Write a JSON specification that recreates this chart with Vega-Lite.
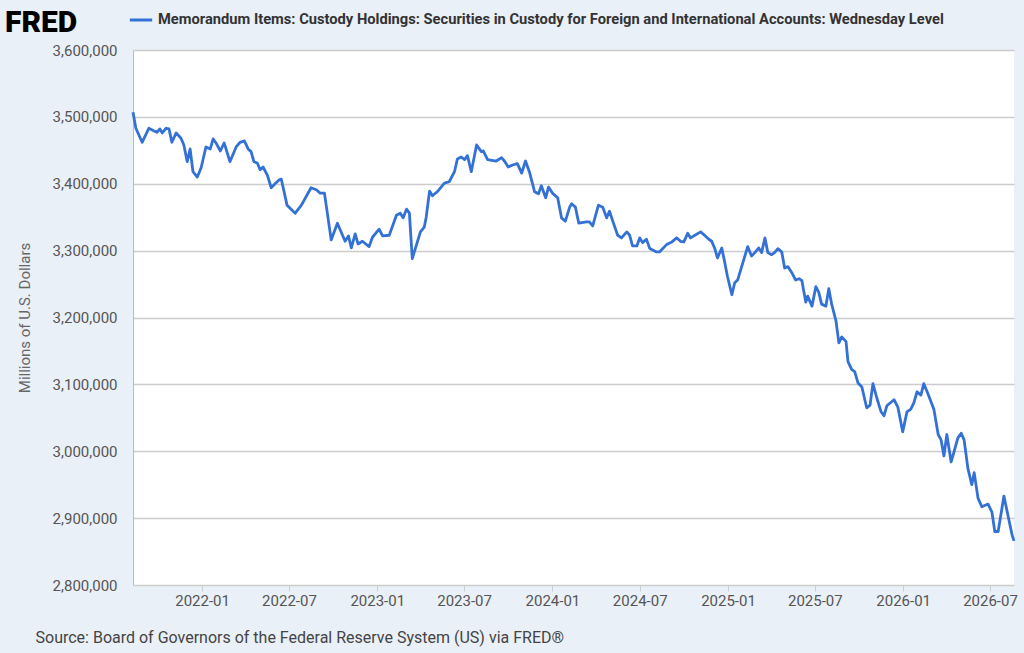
{
  "$schema": "https://vega.github.io/schema/vega-lite/v6.json",
  "autosize": "none",
  "width": 881,
  "height": 535,
  "padding": {"left": 133, "top": 50, "right": 10, "bottom": 68},
  "background": "#eaf0f8",
  "title": {
    "text": "FRED",
    "anchor": "start",
    "frame": "group",
    "dx": -128,
    "offset": 0,
    "dy": 31,
    "fontSize": 30,
    "fontWeight": 900,
    "font": "Roboto",
    "color": "#000000"
  },
  "config": {
    "view": {"fill": "#ffffff", "stroke": null},
    "font": "Roboto"
  },
  "data": {
    "values": [
      {"date": "2021-08-10", "value": 3507000},
      {"date": "2021-08-16", "value": 3483000},
      {"date": "2021-08-29", "value": 3462000},
      {"date": "2021-09-12", "value": 3483000},
      {"date": "2021-09-23", "value": 3479000},
      {"date": "2021-09-29", "value": 3477000},
      {"date": "2021-10-05", "value": 3482000},
      {"date": "2021-10-10", "value": 3476000},
      {"date": "2021-10-18", "value": 3483000},
      {"date": "2021-10-24", "value": 3482000},
      {"date": "2021-10-30", "value": 3462000},
      {"date": "2021-11-08", "value": 3476000},
      {"date": "2021-11-18", "value": 3468000},
      {"date": "2021-11-24", "value": 3458000},
      {"date": "2021-12-01", "value": 3433000},
      {"date": "2021-12-07", "value": 3452000},
      {"date": "2021-12-13", "value": 3418000},
      {"date": "2021-12-22", "value": 3410000},
      {"date": "2021-12-30", "value": 3424000},
      {"date": "2022-01-09", "value": 3455000},
      {"date": "2022-01-18", "value": 3452000},
      {"date": "2022-01-24", "value": 3467000},
      {"date": "2022-01-30", "value": 3461000},
      {"date": "2022-02-08", "value": 3449000},
      {"date": "2022-02-16", "value": 3461000},
      {"date": "2022-02-28", "value": 3433000},
      {"date": "2022-03-13", "value": 3455000},
      {"date": "2022-03-21", "value": 3462000},
      {"date": "2022-03-30", "value": 3464000},
      {"date": "2022-04-07", "value": 3452000},
      {"date": "2022-04-13", "value": 3448000},
      {"date": "2022-04-19", "value": 3433000},
      {"date": "2022-04-26", "value": 3431000},
      {"date": "2022-05-02", "value": 3421000},
      {"date": "2022-05-08", "value": 3425000},
      {"date": "2022-05-17", "value": 3413000},
      {"date": "2022-05-25", "value": 3394000},
      {"date": "2022-06-02", "value": 3400000},
      {"date": "2022-06-11", "value": 3406000},
      {"date": "2022-06-15", "value": 3407000},
      {"date": "2022-06-27", "value": 3368000},
      {"date": "2022-07-14", "value": 3356000},
      {"date": "2022-07-27", "value": 3368000},
      {"date": "2022-08-16", "value": 3394000},
      {"date": "2022-08-27", "value": 3391000},
      {"date": "2022-09-04", "value": 3386000},
      {"date": "2022-09-13", "value": 3386000},
      {"date": "2022-09-27", "value": 3316000},
      {"date": "2022-10-10", "value": 3341000},
      {"date": "2022-10-26", "value": 3314000},
      {"date": "2022-11-02", "value": 3322000},
      {"date": "2022-11-08", "value": 3304000},
      {"date": "2022-11-16", "value": 3325000},
      {"date": "2022-11-22", "value": 3310000},
      {"date": "2022-12-01", "value": 3314000},
      {"date": "2022-12-15", "value": 3306000},
      {"date": "2022-12-22", "value": 3320000},
      {"date": "2023-01-05", "value": 3332000},
      {"date": "2023-01-12", "value": 3322000},
      {"date": "2023-01-26", "value": 3323000},
      {"date": "2023-02-10", "value": 3353000},
      {"date": "2023-02-18", "value": 3356000},
      {"date": "2023-02-24", "value": 3349000},
      {"date": "2023-03-03", "value": 3362000},
      {"date": "2023-03-09", "value": 3356000},
      {"date": "2023-03-15", "value": 3288000},
      {"date": "2023-04-01", "value": 3328000},
      {"date": "2023-04-09", "value": 3335000},
      {"date": "2023-04-13", "value": 3350000},
      {"date": "2023-04-20", "value": 3389000},
      {"date": "2023-04-26", "value": 3382000},
      {"date": "2023-05-06", "value": 3388000},
      {"date": "2023-05-21", "value": 3401000},
      {"date": "2023-05-31", "value": 3403000},
      {"date": "2023-06-11", "value": 3418000},
      {"date": "2023-06-17", "value": 3437000},
      {"date": "2023-06-25", "value": 3440000},
      {"date": "2023-07-02", "value": 3436000},
      {"date": "2023-07-08", "value": 3442000},
      {"date": "2023-07-16", "value": 3418000},
      {"date": "2023-07-27", "value": 3458000},
      {"date": "2023-08-06", "value": 3448000},
      {"date": "2023-08-10", "value": 3449000},
      {"date": "2023-08-19", "value": 3436000},
      {"date": "2023-09-06", "value": 3434000},
      {"date": "2023-09-17", "value": 3439000},
      {"date": "2023-09-23", "value": 3434000},
      {"date": "2023-10-01", "value": 3425000},
      {"date": "2023-10-10", "value": 3428000},
      {"date": "2023-10-20", "value": 3430000},
      {"date": "2023-10-29", "value": 3416000},
      {"date": "2023-11-06", "value": 3434000},
      {"date": "2023-11-14", "value": 3418000},
      {"date": "2023-11-25", "value": 3388000},
      {"date": "2023-12-03", "value": 3385000},
      {"date": "2023-12-09", "value": 3397000},
      {"date": "2023-12-18", "value": 3379000},
      {"date": "2023-12-24", "value": 3395000},
      {"date": "2024-01-01", "value": 3386000},
      {"date": "2024-01-12", "value": 3379000},
      {"date": "2024-01-20", "value": 3349000},
      {"date": "2024-01-28", "value": 3344000},
      {"date": "2024-02-06", "value": 3365000},
      {"date": "2024-02-10", "value": 3370000},
      {"date": "2024-02-18", "value": 3365000},
      {"date": "2024-02-25", "value": 3341000},
      {"date": "2024-03-12", "value": 3343000},
      {"date": "2024-03-18", "value": 3343000},
      {"date": "2024-03-25", "value": 3337000},
      {"date": "2024-04-06", "value": 3368000},
      {"date": "2024-04-15", "value": 3365000},
      {"date": "2024-04-23", "value": 3349000},
      {"date": "2024-04-29", "value": 3359000},
      {"date": "2024-05-05", "value": 3346000},
      {"date": "2024-05-16", "value": 3323000},
      {"date": "2024-05-24", "value": 3319000},
      {"date": "2024-06-04", "value": 3328000},
      {"date": "2024-06-10", "value": 3323000},
      {"date": "2024-06-16", "value": 3307000},
      {"date": "2024-06-25", "value": 3307000},
      {"date": "2024-07-01", "value": 3319000},
      {"date": "2024-07-07", "value": 3312000},
      {"date": "2024-07-15", "value": 3317000},
      {"date": "2024-07-22", "value": 3303000},
      {"date": "2024-08-05", "value": 3298000},
      {"date": "2024-08-11", "value": 3298000},
      {"date": "2024-08-26", "value": 3309000},
      {"date": "2024-09-06", "value": 3313000},
      {"date": "2024-09-16", "value": 3319000},
      {"date": "2024-09-24", "value": 3314000},
      {"date": "2024-10-01", "value": 3313000},
      {"date": "2024-10-09", "value": 3326000},
      {"date": "2024-10-15", "value": 3319000},
      {"date": "2024-10-24", "value": 3323000},
      {"date": "2024-11-05", "value": 3328000},
      {"date": "2024-11-13", "value": 3323000},
      {"date": "2024-11-22", "value": 3317000},
      {"date": "2024-11-28", "value": 3314000},
      {"date": "2024-12-04", "value": 3304000},
      {"date": "2024-12-10", "value": 3289000},
      {"date": "2024-12-19", "value": 3304000},
      {"date": "2024-12-25", "value": 3283000},
      {"date": "2024-12-31", "value": 3261000},
      {"date": "2025-01-09", "value": 3234000},
      {"date": "2025-01-15", "value": 3252000},
      {"date": "2025-01-21", "value": 3256000},
      {"date": "2025-02-01", "value": 3282000},
      {"date": "2025-02-11", "value": 3306000},
      {"date": "2025-02-19", "value": 3292000},
      {"date": "2025-02-26", "value": 3297000},
      {"date": "2025-03-06", "value": 3304000},
      {"date": "2025-03-12", "value": 3297000},
      {"date": "2025-03-19", "value": 3319000},
      {"date": "2025-03-25", "value": 3297000},
      {"date": "2025-04-02", "value": 3294000},
      {"date": "2025-04-08", "value": 3297000},
      {"date": "2025-04-15", "value": 3303000},
      {"date": "2025-04-23", "value": 3298000},
      {"date": "2025-04-29", "value": 3274000},
      {"date": "2025-05-06", "value": 3276000},
      {"date": "2025-05-14", "value": 3267000},
      {"date": "2025-05-22", "value": 3256000},
      {"date": "2025-05-29", "value": 3258000},
      {"date": "2025-06-04", "value": 3255000},
      {"date": "2025-06-12", "value": 3223000},
      {"date": "2025-06-16", "value": 3232000},
      {"date": "2025-06-25", "value": 3217000},
      {"date": "2025-07-03", "value": 3246000},
      {"date": "2025-07-09", "value": 3238000},
      {"date": "2025-07-15", "value": 3220000},
      {"date": "2025-07-24", "value": 3217000},
      {"date": "2025-07-30", "value": 3243000},
      {"date": "2025-08-05", "value": 3220000},
      {"date": "2025-08-14", "value": 3195000},
      {"date": "2025-08-20", "value": 3162000},
      {"date": "2025-08-26", "value": 3171000},
      {"date": "2025-09-04", "value": 3164000},
      {"date": "2025-09-08", "value": 3134000},
      {"date": "2025-09-16", "value": 3122000},
      {"date": "2025-09-22", "value": 3119000},
      {"date": "2025-09-29", "value": 3102000},
      {"date": "2025-10-07", "value": 3096000},
      {"date": "2025-10-17", "value": 3065000},
      {"date": "2025-10-24", "value": 3069000},
      {"date": "2025-10-30", "value": 3101000},
      {"date": "2025-11-07", "value": 3080000},
      {"date": "2025-11-16", "value": 3059000},
      {"date": "2025-11-22", "value": 3053000},
      {"date": "2025-11-28", "value": 3068000},
      {"date": "2025-12-13", "value": 3077000},
      {"date": "2025-12-21", "value": 3066000},
      {"date": "2025-12-31", "value": 3029000},
      {"date": "2026-01-09", "value": 3059000},
      {"date": "2026-01-17", "value": 3063000},
      {"date": "2026-01-23", "value": 3072000},
      {"date": "2026-01-30", "value": 3089000},
      {"date": "2026-02-07", "value": 3084000},
      {"date": "2026-02-13", "value": 3101000},
      {"date": "2026-02-20", "value": 3089000},
      {"date": "2026-02-28", "value": 3074000},
      {"date": "2026-03-06", "value": 3063000},
      {"date": "2026-03-15", "value": 3025000},
      {"date": "2026-03-21", "value": 3017000},
      {"date": "2026-03-27", "value": 2993000},
      {"date": "2026-04-02", "value": 3025000},
      {"date": "2026-04-11", "value": 2984000},
      {"date": "2026-04-17", "value": 2999000},
      {"date": "2026-04-25", "value": 3020000},
      {"date": "2026-05-02", "value": 3027000},
      {"date": "2026-05-08", "value": 3017000},
      {"date": "2026-05-16", "value": 2974000},
      {"date": "2026-05-24", "value": 2950000},
      {"date": "2026-05-29", "value": 2968000},
      {"date": "2026-06-06", "value": 2930000},
      {"date": "2026-06-14", "value": 2917000},
      {"date": "2026-06-27", "value": 2921000},
      {"date": "2026-07-05", "value": 2909000},
      {"date": "2026-07-11", "value": 2880000},
      {"date": "2026-07-18", "value": 2880000},
      {"date": "2026-07-30", "value": 2933000},
      {"date": "2026-08-08", "value": 2902000},
      {"date": "2026-08-16", "value": 2875000},
      {"date": "2026-08-20", "value": 2866000}
    ]
  },
  "mark": {"type": "line", "strokeWidth": 2.8, "strokeJoin": "round"},
  "encoding": {
    "x": {
      "field": "date",
      "type": "temporal",
      "scale": {"domain": [{"year": 2021, "month": 8, "date": 10}, {"year": 2026, "month": 8, "date": 20}], "nice": false},
      "axis": {
        "values": [
          {"year": 2022, "month": 1, "date": 1},
          {"year": 2022, "month": 7, "date": 1},
          {"year": 2023, "month": 1, "date": 1},
          {"year": 2023, "month": 7, "date": 1},
          {"year": 2024, "month": 1, "date": 1},
          {"year": 2024, "month": 7, "date": 1},
          {"year": 2025, "month": 1, "date": 1},
          {"year": 2025, "month": 7, "date": 1},
          {"year": 2026, "month": 1, "date": 1},
          {"year": 2026, "month": 7, "date": 1}
        ],
        "format": "%Y-%m",
        "grid": false,
        "domain": false,
        "ticks": true,
        "tickColor": "#cccccc",
        "tickSize": 6,
        "labelPadding": 2,
        "labelFontSize": 15,
        "labelColor": "#555555",
        "labelFont": "Roboto",
        "title": "Source: Board of Governors of the Federal Reserve System (US) via FRED®",
        "titleAnchor": "start",
        "titleAlign": "left",
        "titleX": -98,
        "titleY": 57,
        "titleBaseline": "alphabetic",
        "titleFontSize": 16,
        "titleFontWeight": "normal",
        "titleColor": "#444444",
        "titleFont": "Roboto"
      }
    },
    "y": {
      "field": "value",
      "type": "quantitative",
      "scale": {"domain": [2800000, 3600000], "nice": false, "zero": false},
      "axis": {
        "values": [2800000, 2900000, 3000000, 3100000, 3200000, 3300000, 3400000, 3500000, 3600000],
        "format": ",.0f",
        "grid": true,
        "gridColor": "#cccccc",
        "gridWidth": 1.5,
        "domain": true,
        "domainColor": "#bbbbbb",
        "ticks": false,
        "labelPadding": 16,
        "labelFontSize": 15,
        "labelColor": "#555555",
        "labelFont": "Roboto",
        "title": "Millions of U.S. Dollars",
        "titleFontSize": 15,
        "titleFontWeight": "normal",
        "titleColor": "#666666",
        "titleFont": "Roboto",
        "titlePadding": 20
      }
    },
    "color": {
      "datum": "Memorandum Items: Custody Holdings: Securities in Custody for Foreign and International Accounts: Wednesday Level",
      "type": "nominal",
      "scale": {"range": ["#3371d6"]},
      "legend": {
        "title": null,
        "orient": "none",
        "legendX": -5,
        "legendY": -43,
        "symbolType": "stroke",
        "symbolSize": 500,
        "symbolStrokeWidth": 3,
        "labelFontSize": 14.7,
        "labelFontWeight": "bold",
        "labelColor": "#333333",
        "labelFont": "Roboto",
        "labelLimit": 1000,
        "padding": 0
      }
    }
  }
}
